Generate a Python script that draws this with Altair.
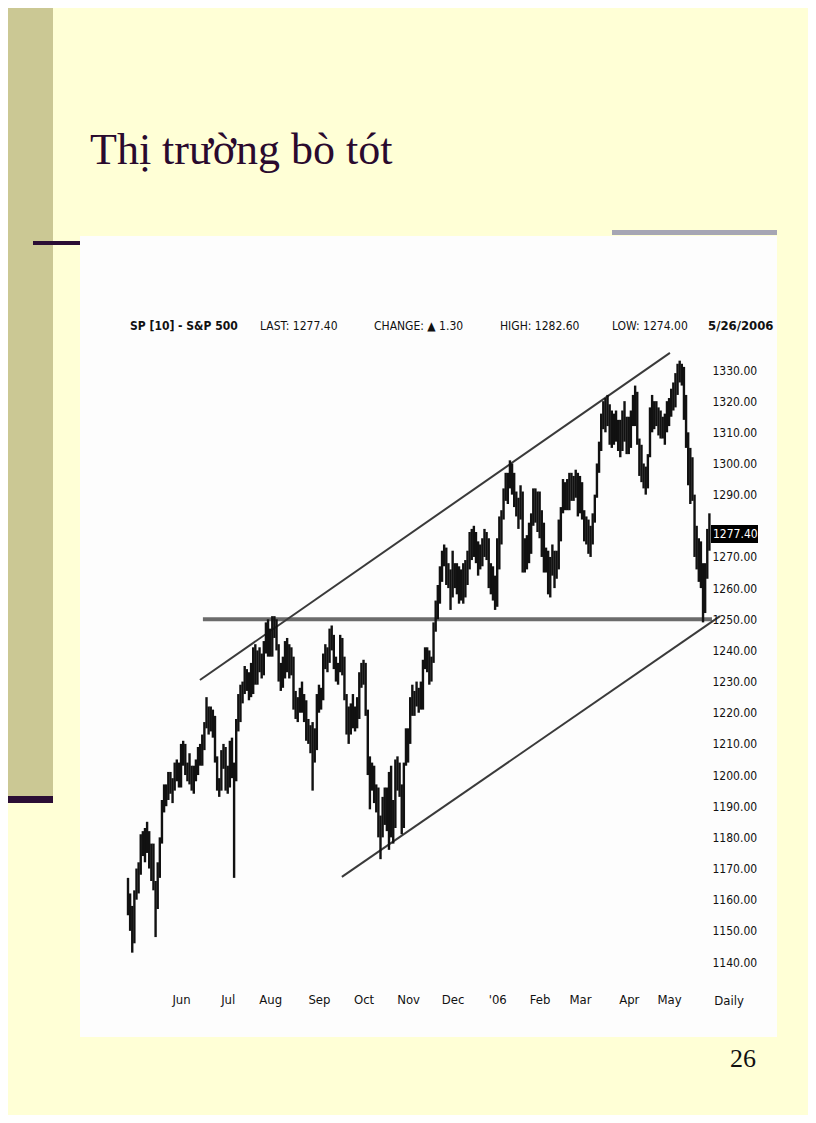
import json
import altair as alt
import pandas as pd

# ---- daily bars (trading-day index 0 = 26 Apr 2005 ... 274 = 26 May 2006) ----
high = [
    # Apr 2005
    1167, 1162, 1158, 1163,
    # May 2005
    1170, 1172, 1181, 1182, 1183, 1185, 1182, 1178, 1178, 1166, 1172, 1180, 1192, 1197, 1197, 1201, 1201, 1199, 1204, 1205, 1204,
    # Jun
    1210, 1211, 1210, 1204, 1207, 1203, 1203, 1205, 1209, 1210, 1213, 1217, 1225, 1222, 1222, 1221, 1219, 1206, 1199, 1208, 1210, 1209,
    # Jul
    1203, 1211, 1212, 1204, 1218, 1226, 1229, 1230, 1235, 1234, 1233, 1236, 1241, 1242, 1240, 1241, 1239, 1243, 1249, 1250,
    # Aug
    1247, 1251, 1251, 1250, 1242, 1236, 1238, 1243, 1244, 1242, 1241, 1238, 1227, 1225, 1228, 1230, 1226, 1224, 1218, 1216, 1217, 1215, 1226,
    # Sep
    1229, 1228, 1239, 1242, 1241, 1247, 1248, 1245, 1238, 1236, 1245, 1244, 1238, 1226, 1222, 1223, 1226, 1222, 1225, 1233, 1236,
    # Oct
    1237, 1236, 1221, 1206, 1204, 1203, 1197, 1196, 1187, 1193, 1196, 1196, 1201, 1203, 1192, 1205, 1206, 1204, 1197, 1204, 1215,
    # Nov
    1215, 1225, 1229, 1227, 1230, 1228, 1230, 1237, 1241, 1241, 1240, 1238, 1249, 1256, 1261, 1267, 1272, 1274, 1273, 1268, 1266,
    # Dec
    1272, 1268, 1268, 1267, 1266, 1268, 1269, 1272, 1278, 1279, 1280, 1278, 1275, 1274, 1276, 1279, 1278, 1276, 1268, 1267, 1264,
    # Jan 2006
    1276, 1283, 1285, 1292, 1297, 1297, 1301, 1300, 1297, 1291, 1289, 1293, 1291, 1276, 1277, 1281, 1284, 1292, 1292, 1291,
    # Feb
    1291, 1285, 1281, 1273, 1272, 1270, 1274, 1272, 1272, 1282, 1286, 1295, 1294, 1295, 1297, 1297, 1296, 1298, 1297,
    # Mar
    1296, 1294, 1285, 1283, 1282, 1280, 1284, 1290, 1300, 1307, 1316, 1320, 1321, 1322, 1319, 1317, 1316, 1317, 1314, 1314, 1317, 1320, 1315,
    # Apr
    1315, 1317, 1322, 1325, 1323, 1308, 1306, 1300, 1299, 1303, 1318, 1322, 1320, 1320, 1318, 1317, 1315, 1316, 1320,
    # May
    1321, 1324, 1326, 1329, 1332, 1333, 1332, 1331, 1322, 1310, 1305, 1302, 1290, 1280, 1276, 1275, 1268, 1268, 1279, 1284,
]
low = [
    1155, 1150, 1143, 1146,
    1160, 1162, 1168, 1174, 1172, 1175, 1170, 1166, 1163, 1148, 1157, 1167, 1178, 1188, 1190, 1192, 1194, 1191, 1195, 1198, 1196,
    1196, 1203, 1200, 1198, 1197, 1195, 1194, 1198, 1200, 1203, 1203, 1208, 1215, 1213, 1214, 1212, 1204, 1195, 1193, 1195, 1202, 1195,
    1194, 1196, 1199, 1167, 1198, 1214, 1217, 1223, 1226, 1227, 1224, 1225, 1226, 1229, 1229, 1233, 1231, 1232, 1239, 1238,
    1238, 1238, 1244, 1240, 1230, 1227, 1228, 1231, 1233, 1231, 1232, 1221, 1218, 1217, 1220, 1220, 1217, 1211, 1210, 1207, 1195, 1204, 1208,
    1220, 1221, 1224, 1234, 1233, 1236, 1240, 1234, 1230, 1229, 1233, 1232, 1224, 1213, 1210, 1213, 1215, 1214, 1215, 1218, 1228,
    1229, 1219, 1200, 1189, 1195, 1191, 1188, 1180, 1173, 1180, 1184, 1182, 1176, 1180, 1178, 1183, 1195, 1193, 1181, 1183, 1203,
    1204, 1210, 1219, 1219, 1222, 1220, 1221, 1221, 1234, 1233, 1229, 1230, 1236, 1246, 1250, 1255, 1262, 1267, 1261, 1260, 1253,
    1257, 1260, 1258, 1255, 1256, 1255, 1257, 1261, 1266, 1269, 1270, 1268, 1264, 1266, 1267, 1270, 1269, 1260, 1258, 1256, 1253,
    1254, 1266, 1274, 1282, 1288, 1287, 1292, 1290, 1286, 1283, 1279, 1282, 1265, 1265, 1266, 1268, 1271, 1280, 1281, 1278,
    1276, 1270, 1265, 1265, 1258, 1257, 1264, 1260, 1263, 1266, 1275, 1284, 1285, 1285, 1285, 1288, 1288, 1289, 1283,
    1284, 1282, 1275, 1274, 1271, 1270, 1274, 1281, 1289, 1297, 1304, 1311, 1310, 1312, 1306, 1305, 1306, 1307, 1304, 1302, 1304, 1307, 1303,
    1303, 1305, 1312, 1312, 1306, 1296, 1294, 1292, 1290, 1292, 1302, 1310, 1311, 1312, 1309, 1308, 1308, 1306, 1310,
    1312, 1315, 1317, 1318, 1322, 1326, 1325, 1314, 1305, 1293, 1287, 1288, 1270, 1266, 1262, 1260, 1249, 1252, 1263, 1272,
]

# ---- axis labels ----
month_labels = ["Jun", "Jul", "Aug", "Sep", "Oct", "Nov", "Dec", "'06", "Feb", "Mar", "Apr", "May"]
month_start_idx = [25, 47, 67, 90, 111, 132, 153, 174, 194, 213, 236, 255]
price_ticks = [1140, 1150, 1160, 1170, 1180, 1190, 1200, 1210, 1220, 1230, 1240, 1250,
               1260, 1270, 1290, 1300, 1310, 1320, 1330]
last_price = [1277.40]

# ---- hand-drawn trend lines (day index, price) ----
line_x0 = [33.9, 100.8]
line_y0 = [1230.5, 1167.3]
line_x1 = [255.4, 279.0]
line_y1 = [1335.5, 1251.0]
support_x = [35.3, 275.2]
support_y = [1250.0, 1250.0]

header_texts = ["LAST: 1277.40", "CHANGE: \u25b2 1.30", "HIGH: 1282.60", "LOW: 1274.00"]

SANS = "DejaVu Sans Condensed, Liberation Sans, Arial, sans-serif"
SERIF = "Liberation Serif, Times New Roman, serif"

bars = pd.DataFrame({"day": list(range(len(high))), "high": high, "low": low})
lines = pd.DataFrame({"x0": line_x0, "y0": line_y0, "x1": line_x1, "y1": line_y1})
support = pd.DataFrame({"x0": [support_x[0]], "x1": [support_x[1]], "y0": [support_y[0]]})
lastdf = pd.DataFrame({"v": last_price, "t": [f"{last_price[0]:.2f}"]})
one = pd.DataFrame({"a": [0]})

xs = alt.Scale(domain=[0, 274], range=[120, 701.4], nice=False, zero=False)
ys = alt.Scale(domain=[1140, 1330], range=[954, 362], nice=False, zero=False)

label_expr = f"{json.dumps(month_labels)}[indexof({json.dumps(month_start_idx)}, datum.value)]"

X_AX = alt.Axis(values=month_start_idx, labelExpr=label_expr, orient="bottom",
                offset=-122, labelPadding=0, ticks=False, domain=False, grid=False,
                labelFont=SANS, labelFontSize=13, labelColor="#111111",
                labelBaseline="top", zindex=1)
Y_AX = alt.Axis(values=price_ticks, format=".2f", orient="right",
                offset=-96, labelPadding=0, ticks=False, domain=False, grid=False,
                labelFont=SANS, labelFontSize=12, labelColor="#111111", zindex=1)


def rect(x, x2, y, y2, color):
    return alt.Chart(one).mark_rect(color=color).encode(
        x=alt.value(x), x2=alt.value(x2), y=alt.value(y), y2=alt.value(y2))


def label(text, x, y, size, font, weight="normal", color="#111111", align="left", baseline="middle"):
    return alt.Chart(one).mark_text(
        text=text, font=font, fontSize=size, fontWeight=weight, color=color,
        align=align, baseline=baseline).encode(x=alt.value(x), y=alt.value(y))


olive = rect(0, 45, 0, 788, "#CBC894")
olive_line = rect(0, 45, 788, 795, "#2B0E35")
top_line = rect(25, 73, 233, 237, "#2B0E35")
panel = rect(72, 769, 228, 1029, "#FDFDFD")
gray_bar = rect(604, 769, 222, 227, "#A6A6B4")

title = label("Thị trường bò tót", 82, 156, 44, SERIF, color="#2A0A2E", baseline="alphabetic")
page_no = label("26", 722, 1059, 26, SERIF, color="#111111", baseline="alphabetic")

hdr_sp = label("SP [10] - S&P 500", 122, 318, 12, SANS, weight="bold")
hdr_x = [252, 366, 492, 604]
hdrs = [label(t, x, 318, 12, SANS) for t, x in zip(header_texts, hdr_x)]
hdr_date = label("5/26/2006", 700, 318, 13, SANS, weight="bold")
daily = label("Daily", 721, 993, 13, SANS, align="center")

bar_layer = alt.Chart(bars).mark_rule(color="#111111", strokeWidth=2.4).encode(
    x=alt.X("day:Q", scale=xs, title=None, axis=X_AX),
    y=alt.Y("low:Q", scale=ys, title=None, axis=Y_AX),
    y2="high:Q",
)

trend = alt.Chart(lines).mark_rule(color="#3A3A3A", strokeWidth=2).encode(
    x=alt.X("x0:Q", scale=xs, title=None, axis=X_AX), x2="x1:Q",
    y=alt.Y("y0:Q", scale=ys, title=None, axis=Y_AX), y2="y1:Q",
)
supp = alt.Chart(support).mark_rule(color="#6B6B6B", strokeWidth=4).encode(
    x=alt.X("x0:Q", scale=xs, title=None, axis=X_AX), x2="x1:Q",
    y=alt.Y("y0:Q", scale=ys, title=None, axis=Y_AX),
)
last_box = alt.Chart(lastdf).mark_rect(color="#000000", width=47, height=18).encode(
    x=alt.value(726.5), y=alt.Y("v:Q", scale=ys, title=None, axis=Y_AX))
last_txt = alt.Chart(lastdf).mark_text(color="#FFFFFF", font=SANS, fontSize=12, align="left").encode(
    x=alt.value(705), y=alt.Y("v:Q", scale=ys, title=None, axis=Y_AX), text="t:N")

chart = alt.layer(
    olive, olive_line, top_line, panel, gray_bar, title, page_no,
    hdr_sp, *hdrs, hdr_date, daily,
    supp, trend, bar_layer, last_box, last_txt,
).properties(
    width=800, height=1107, autosize="none", padding=0, background="#FFFFD6",
).configure_view(strokeWidth=0)

chart.save("out.html", embed_options={"renderer": "svg", "actions": False})
